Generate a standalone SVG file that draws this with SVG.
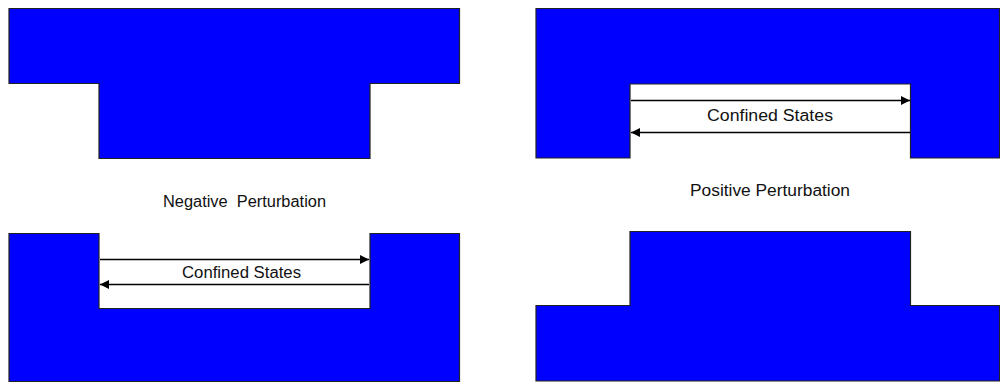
<svg xmlns="http://www.w3.org/2000/svg" width="1000" height="382" viewBox="0 0 1000 382">
<style>
.blk{fill:#0000FF;stroke:#222;stroke-width:1.2}
.arr{stroke:#000;stroke-width:1.3;fill:none}
.lbl{font-family:"Liberation Sans",Arial,sans-serif;font-size:16px;fill:#111}
</style>
<defs>
<marker id="ah" viewBox="0 0 10 10" refX="10" refY="5" markerWidth="12" markerHeight="9" markerUnits="userSpaceOnUse" orient="auto">
<path d="M0,0 L10,5 L0,10 Z" fill="#000"/>
</marker>
</defs>
<rect width="1000" height="382" fill="#fff"/>
<g id="neg-top"><polygon class="blk" points="9,8.5 459.5,8.5 459.5,83.5 370,83.5 370,158.5 99,158.5 99,83.5 9,83.5"/></g>
<g id="neg-bottom"><polygon class="blk" points="9,233.5 99,233.5 99,308.5 370,308.5 370,233.5 459.5,233.5 459.5,381.5 9,381.5"/></g>
<g id="pos-top"><polygon class="blk" points="536,8.5 999.5,8.5 999.5,158 910.5,158 910.5,84 630,84 630,158 536,158"/></g>
<g id="pos-bottom"><polygon class="blk" points="630,231.5 910.5,231.5 910.5,305.5 999.5,305.5 999.5,381 536,381 536,305.5 630,305.5"/></g>
<g id="connectors">
<line class="arr" x1="100" y1="259.5" x2="369" y2="259.5" marker-end="url(#ah)"/>
<line class="arr" x1="369" y1="284.5" x2="100" y2="284.5" marker-end="url(#ah)"/>
<line class="arr" x1="631" y1="100.5" x2="910" y2="100.5" marker-end="url(#ah)"/>
<line class="arr" x1="910" y1="132.5" x2="631" y2="132.5" marker-end="url(#ah)"/>
</g>
<g id="labels">
<text class="lbl" x="182" y="278" textLength="119" lengthAdjust="spacingAndGlyphs">Confined States</text>
<text class="lbl" x="707" y="121" textLength="126" lengthAdjust="spacingAndGlyphs">Confined States</text>
<text class="lbl" x="163" y="207" textLength="163" lengthAdjust="spacingAndGlyphs" xml:space="preserve">Negative  Perturbation</text>
<text class="lbl" x="690" y="196" textLength="160" lengthAdjust="spacingAndGlyphs">Positive Perturbation</text>
</g>
</svg>
